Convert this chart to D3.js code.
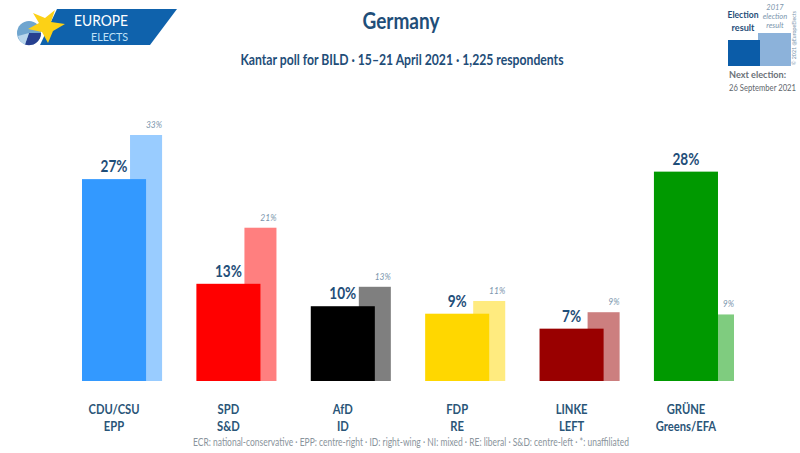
<!DOCTYPE html>
<meta charset="utf-8">
<style>
	html, body { margin: 0; padding: 0; background: #fff; }
	svg { display: block; }
	text { font-family: Lato, "Noto Sans", sans-serif; }
	.dark { fill: #1f4e79; font-weight: bold; }
	.party { fill: #2a5578; font-weight: bold; font-size: 14px; }
	.prev { fill: #7c96ad; font-style: italic; font-size: 10px; }
	.grey { fill: #8a949c; }
</style>
<body>
<div id="chart"></div>
<script src="https://d3js.org/d3.v7.min.js"></script>
<script>
var parties = ["CDU/CSU", "SPD", "AfD", "FDP", "LINKE", "GRÜNE"];
var groups = ["EPP", "S&D", "ID", "RE", "LEFT", "Greens/EFA"];
var poll = [27, 13, 10, 9, 7, 28];
var election = [32.9, 20.5, 12.6, 10.7, 9.2, 8.9];
var electionLabels = ["33%", "21%", "13%", "11%", "9%", "9%"];
var colors = ["#3399ff", "#ff0000", "#000000", "#ffd700", "#990000", "#009900"];

var width = 800, height = 453;

var svg = d3.select("#chart").append("svg")
	.attr("width", width)
	.attr("height", height);

// squeeze text to a given fraction of its natural width (no condensed font installed)
function squeeze(sel, k) {
	sel.each(function () {
		var w = this.getComputedTextLength();
		d3.select(this).attr("textLength", w * k).attr("lengthAdjust", "spacingAndGlyphs");
	});
	return sel;
}
// same, to an exact width in px
function fit(sel, w) {
	return sel.attr("textLength", w).attr("lengthAdjust", "spacingAndGlyphs");
}

// scales
var x = d3.scaleBand().domain(parties).range([82, 734]).paddingInner(0.3);
var y = d3.scaleLinear().domain([0, 32.9]).range([381, 135]);
var bw = x.bandwidth();

// result bars go behind the poll bars
svg.selectAll(".result").data(parties).enter().append("rect")
	.attr("class", "result")
	.attr("x", function (d) { return x(d) + bw * 0.6; })
	.attr("y", function (d, i) { return y(election[i]); })
	.attr("width", bw * 0.4)
	.attr("height", function (d, i) { return y(0) - y(election[i]); })
	.attr("fill", function (d, i) { return colors[i]; })
	.attr("fill-opacity", 0.5);

svg.selectAll(".poll").data(parties).enter().append("rect")
	.attr("class", "poll")
	.attr("x", function (d) { return x(d); })
	.attr("y", function (d, i) { return y(poll[i]); })
	.attr("width", bw * 0.8)
	.attr("height", function (d, i) { return y(0) - y(poll[i]); })
	.attr("fill", function (d, i) { return colors[i]; });

// value labels
squeeze(svg.selectAll(".pollLabel").data(parties).enter().append("text")
	.attr("class", "dark")
	.attr("x", function (d) { return x(d) + bw * 0.4; })
	.attr("y", function (d, i) { return y(poll[i]) - 7; })
	.attr("text-anchor", "middle")
	.attr("font-size", 17)
	.text(function (d, i) { return poll[i] + "%"; }), 0.8);

squeeze(svg.selectAll(".prevLabel").data(parties).enter().append("text")
	.attr("class", "prev")
	.attr("x", function (d) { return x(d) + bw; })
	.attr("y", function (d, i) { return y(election[i]) - 7; })
	.attr("text-anchor", "end")
	.text(function (d, i) { return electionLabels[i]; }), 0.85);

// party + group names
squeeze(svg.selectAll(".partyName").data(parties).enter().append("text")
	.attr("class", "party")
	.attr("x", function (d) { return x(d) + bw * 0.4; })
	.attr("y", 414)
	.attr("text-anchor", "middle")
	.text(function (d) { return d; }), 0.8);

squeeze(svg.selectAll(".groupName").data(parties).enter().append("text")
	.attr("class", "party")
	.attr("x", function (d) { return x(d) + bw * 0.4; })
	.attr("y", 431)
	.attr("text-anchor", "middle")
	.text(function (d, i) { return groups[i]; }), 0.8);

// titles
fit(svg.append("text").attr("class", "dark")
	.attr("x", 401).attr("y", 29).attr("text-anchor", "middle")
	.attr("font-size", 23).text("Germany"), 77);
fit(svg.append("text").attr("class", "dark")
	.attr("x", 402).attr("y", 65).attr("text-anchor", "middle")
	.attr("font-size", 14.5)
	.text("Kantar poll for BILD · 15–21 April 2021 · 1,225 respondents"), 323);
fit(svg.append("text").attr("class", "grey")
	.attr("x", 411).attr("y", 446).attr("text-anchor", "middle")
	.attr("font-size", 10.5)
	.text("ECR: national-conservative · EPP: centre-right · ID: right-wing · NI: mixed · RE: liberal · S&D: centre-left · *: unaffiliated"), 436);

// logo
var logo = svg.append("g");
logo.append("path").attr("d", "M57,9H177L150,45H40Z").attr("fill", "#0f62ac");
logo.append("circle").attr("cx", 29).attr("cy", 33).attr("r", 12).attr("fill", "#6fa5cf");
logo.append("path").attr("d", "M29,33L41,33A12,12 0 0 1 25,44.5Z").attr("fill", "#263f8f");
logo.append("path").attr("d", "M29,33L25,44.5A12,12 0 0 1 18,36Z").attr("fill", "#b9d6ec");
logo.append("path")
	.attr("d", "M55,10L51,22L65,24L53,31L48,43L42,32L28,29L39,23L33,13L45,18Z")
	.attr("fill", "#fcd116");
fit(logo.append("text").attr("x", 74).attr("y", 26).attr("fill", "#fff")
	.attr("font-size", 16).text("EUROPE"), 54);
fit(logo.append("text").attr("x", 91).attr("y", 41).attr("fill", "#bfe0f7")
	.attr("font-size", 12).text("ELECTS"), 37);

// key, top right
var key = svg.append("g");
key.append("rect").attr("x", 758).attr("y", 33).attr("width", 33).attr("height", 33).attr("fill", "#8cb2da");
key.append("rect").attr("x", 728).attr("y", 40).attr("width", 32).attr("height", 26).attr("fill", "#0b5ca8");
fit(key.append("text").attr("class", "dark").attr("x", 743).attr("y", 18).attr("text-anchor", "middle")
	.attr("font-size", 9.5).text("Election"), 31);
fit(key.append("text").attr("class", "dark").attr("x", 743).attr("y", 31).attr("text-anchor", "middle")
	.attr("font-size", 9.5).text("result"), 23);
["2017", "election", "result"].forEach(function (t, i) {
	key.append("text").attr("class", "prev").attr("x", 775).attr("y", 10 + i * 9)
		.attr("text-anchor", "middle").style("font-size", "7.5px").text(t);
});
fit(key.append("text").attr("x", 729).attr("y", 78).attr("fill", "#6b7278")
	.attr("font-weight", "bold").attr("font-size", 10).text("Next election:"), 57);
fit(key.append("text").attr("x", 729).attr("y", 91).attr("fill", "#5f676d")
	.attr("font-size", 8.5).text("26 September 2021"), 67);
fit(key.append("text").attr("transform", "translate(796,65) rotate(-90)").attr("fill", "#7c96ad")
	.attr("font-size", 6.5).text("© 2021 @EuropeElects"), 54);
</script>
</body>
